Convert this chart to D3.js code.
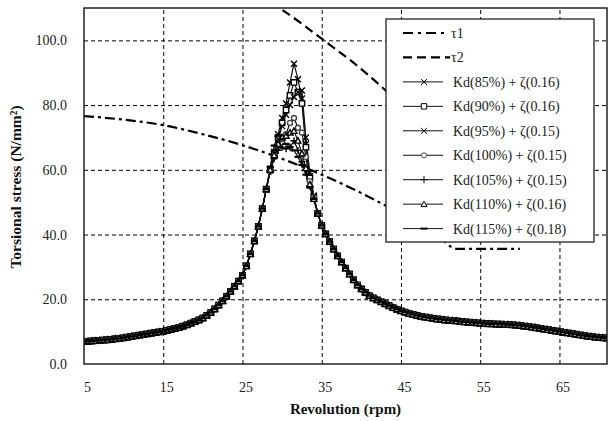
<!DOCTYPE html>
<html><head><meta charset="utf-8">
<script src="https://cdn.jsdelivr.net/npm/d3@7"></script>
<style>body{margin:0;background:#fff}</style>
</head><body><svg id="c" width="609" height="421"></svg>
<script>
const rpm = [5,5.5,6,6.5,7,7.5,8,8.5,9,9.5,10,10.5,11,11.5,12,12.5,13,13.5,14,14.5,15,15.5,16,16.5,17,17.5,18,18.5,19,19.5,20,20.5,21,21.5,22,22.5,23,23.5,24,24.5,25,25.5,26,26.5,27,27.5,28,28.5,29,29.5,30,30.5,31,31.5,32,32.5,33,33.5,34,34.5,35,35.5,36,36.5,37,37.5,38,38.5,39,39.5,40,40.5,41,41.5,42,42.5,43,43.5,44,44.5,45,45.5,46,46.5,47,47.5,48,48.5,49,49.5,50,50.5,51,51.5,52,52.5,53,53.5,54,54.5,55,55.5,56,56.5,57,57.5,58,58.5,59,59.5,60,60.5,61,61.5,62,62.5,63,63.5,64,64.5,65,65.5,66,66.5,67,67.5,68,68.5,69,69.5,70,70.5,71];
const baseStress = [6.9,7.0,7.1,7.2,7.3,7.4,7.5,7.6,7.8,7.9,8.1,8.3,8.5,8.7,8.9,9.1,9.3,9.5,9.7,9.9,10.1,10.4,10.7,11.0,11.3,11.7,12.1,12.6,13.1,13.6,14.2,15.0,15.9,17.0,18.2,19.5,20.9,22.4,24.0,25.6,27.4,30.3,34.0,38.0,42.5,48.0,54.0,60.0,65.0,70,74,76,78,80,76,72,64,57,51.5,46.5,42.8,40.2,37.8,35.5,33.4,31.5,29.6,27.8,26.0,24.4,23.2,22.1,21.1,20.4,19.8,19.2,18.6,18.0,17.4,16.9,16.4,16.0,15.6,15.3,15.0,14.7,14.5,14.3,14.1,13.9,13.8,13.6,13.5,13.4,13.3,13.1,13.0,12.9,12.8,12.7,12.6,12.5,12.4,12.4,12.3,12.3,12.2,12.2,12.1,12.0,11.9,11.7,11.6,11.4,11.2,11.0,10.8,10.6,10.4,10.2,10.0,9.8,9.6,9.4,9.2,9.0,8.8,8.6,8.5,8.3,8.2,8.1,8.0];

const peakRpm = [28.5,29,29.5,30,30.5,31,31.5,32,32.5,33,33.5,34];
const kd85  = [60,65.5,71,76,80.5,87,92.8,88,82,68,58,52];
const kd90  = [60,65,70,74.5,78.5,83,87,84,80.5,67,57.5,51.5];
const kd95  = [60,65,69.5,73.5,77,80,82.5,84,84.5,70,59,52];
const kd100 = [59.5,64,67.5,69.5,71,74.5,76,73,71.5,64,56.5,51.5];
const kd105 = [59.5,63.5,66,67,66.5,67,69,66,62.5,60,55,51];
const kd110 = [60,64.5,68,70,70.5,71.5,72,69,65,60.5,55.5,51];
const kd115 = [61,67.5,70.5,69.5,68,67,66,64,61.5,58.5,54.5,51];

const seriesLabels = ["Kd(85%) + \u03B6(0.16)","Kd(90%) + \u03B6(0.16)","Kd(95%) + \u03B6(0.15)","Kd(100%) + \u03B6(0.15)","Kd(105%) + \u03B6(0.15)","Kd(110%) + \u03B6(0.16)","Kd(115%) + \u03B6(0.18)"];
const seriesPeaks = [kd85,kd90,kd95,kd100,kd105,kd110,kd115];
const seriesMarkers = ["x","square","x","circle","plus","triangle","dash"];

const tau1Rpm = [5,10,15,20,25,30,35,40,45,48,50,52,56,60];
const tau1 = [76.6,75.5,73.8,71.0,67.6,63.4,58.5,52.8,46.3,41.9,38.8,35.6,35.6,35.6];
const tau2Rpm = [27,30,35,40,45,46.5];
const tau2 = [113.7,109.4,100.5,91.1,79.9,76.0];

const xTicks = [5,15,25,35,45,55,65];
const yTicks = [0,20,40,60,80,100];

const svg = d3.select("#c");
const L=84,R=607,T=8,B=364;
const x = d3.scaleLinear().domain([5,71]).range([L,R]);
const y = d3.scaleLinear().domain([0,110]).range([B,T]);
const font = "'Liberation Serif','Times New Roman',serif";

svg.append("defs").append("clipPath").attr("id","clip")
  .append("rect").attr("x",L).attr("y",T).attr("width",R-L).attr("height",B-T);

// grid
const gx = svg.append("g").attr("transform",`translate(0,${B})`)
  .call(d3.axisBottom(x).tickValues(xTicks.slice(1)).tickSize(-(B-T)).tickFormat(""));
gx.select(".domain").remove();
gx.selectAll("line").attr("stroke","#000").attr("stroke-dasharray","4,3").attr("stroke-width",1);
const gy = svg.append("g").attr("transform",`translate(${L},0)`)
  .call(d3.axisLeft(y).tickValues(yTicks.slice(1)).tickSize(-(R-L)).tickFormat(""));
gy.select(".domain").remove();
gy.selectAll("line").attr("stroke","#000").attr("stroke-dasharray","4,3").attr("stroke-width",1);

// tick labels via axes
const ax = svg.append("g").attr("transform",`translate(0,${B})`)
  .call(d3.axisBottom(x).tickValues(xTicks).tickSize(0).tickPadding(18).tickFormat(d3.format("d")));
ax.select(".domain").remove();
ax.selectAll("text").attr("font-family",font).attr("font-size",14).attr("fill","#222").attr("dx",3);
const ay = svg.append("g").attr("transform",`translate(${L},0)`)
  .call(d3.axisLeft(y).tickValues(yTicks).tickSize(0).tickPadding(17).tickFormat(d3.format(".1f")));
ay.select(".domain").remove();
ay.selectAll("text").attr("font-family",font).attr("font-size",14).attr("fill","#222");

const plot = svg.append("g").attr("clip-path","url(#clip)");

// tau lines
const lineT = d3.line().x(d=>x(d[0])).y(d=>y(d[1])).curve(d3.curveMonotoneX);
plot.append("path").datum(tau1Rpm.map((r,i)=>[r,tau1[i]])).attr("d",lineT)
  .attr("fill","none").attr("stroke","#000").attr("stroke-width",2.2).attr("stroke-dasharray","10,4,3,4");
plot.append("path").datum(tau2Rpm.map((r,i)=>[r,tau2[i]])).attr("d",lineT)
  .attr("fill","none").attr("stroke","#000").attr("stroke-width",2.2).attr("stroke-dasharray","9,5");

// series
const markerPath = {
  x:"M-3,-3L3,3M-3,3L3,-3",
  square:"M-2.7,-2.7H2.7V2.7H-2.7Z",
  circle:"M-2.5,0A2.5,2.5 0 1 0 2.5,0A2.5,2.5 0 1 0 -2.5,0Z",
  plus:"M-3.5,0H3.5M0,-3.5V3.5",
  triangle:"M0,-3L3,2.4H-3Z",
  dash:"M-3.5,0H3.5"
};
const series = seriesPeaks.map((pk,si)=>({
  label: seriesLabels[si], marker: seriesMarkers[si],
  values: rpm.map((r,i)=>{ const k = peakRpm.indexOf(r); return [r, k>=0 ? pk[k] : baseStress[i]]; })
}));
const lineS = d3.line().x(d=>x(d[0])).y(d=>y(d[1]));
series.forEach(s=>{
  plot.append("path").datum(s.values).attr("d",lineS)
    .attr("fill","none").attr("stroke","#111").attr("stroke-width",1.2);
});
series.forEach(s=>{
  plot.append("g").selectAll("path").data(s.values).join("path")
    .attr("transform",d=>`translate(${x(d[0])},${y(d[1])})`)
    .attr("d",markerPath[s.marker])
    .attr("fill",(s.marker==="square"||s.marker==="circle"||s.marker==="triangle")?"#fff":"none")
    .attr("stroke", s.marker==="circle" ? "#444" : "#000")
    .attr("stroke-width", s.marker==="dash" ? 2.2 : 1.4);
});

// frame
svg.append("rect").attr("x",L).attr("y",T).attr("width",R-L).attr("height",B-T)
  .attr("fill","none").attr("stroke","#222").attr("stroke-width",1.5);

// legend
const lg = svg.append("g");
lg.append("rect").attr("x",386).attr("y",19).attr("width",208).attr("height",223)
  .attr("fill","#fff").attr("stroke","#222").attr("stroke-width",1.3);
const legendItems = [{label:"\u03C41",type:"tau1"},{label:"\u03C42",type:"tau2"}]
  .concat(series.map(s=>({label:s.label,type:"series",marker:s.marker})));
legendItems.forEach((it,i)=>{
  const yy = 33 + i*24.45;
  const g = lg.append("g").attr("transform",`translate(0,${yy})`);
  if(it.type==="tau1"){
    g.append("line").attr("x1",403).attr("x2",444).attr("stroke","#000").attr("stroke-width",2.2).attr("stroke-dasharray","10,5,3,5");
  } else if(it.type==="tau2"){
    g.append("line").attr("x1",403).attr("x2",450).attr("stroke","#000").attr("stroke-width",2.2).attr("stroke-dasharray","9,5");
  } else {
    g.append("line").attr("x1",403).attr("x2",443).attr("stroke","#111").attr("stroke-width",1);
    g.append("path").attr("transform","translate(424,0)").attr("d",markerPath[it.marker])
      .attr("fill",(it.marker==="square"||it.marker==="circle"||it.marker==="triangle")?"#fff":"none")
      .attr("stroke", it.marker==="circle" ? "#444" : "#000")
      .attr("stroke-width", it.marker==="dash" ? 2 : 1);
  }
  g.append("text").attr("x",it.type==="series"?453:451).attr("y",0).attr("dy","0.35em")
    .attr("font-family",font).attr("font-size",14).attr("fill","#1a1a1a").text(it.label);
});

// axis titles
svg.append("text").attr("x",(L+R)/2).attr("y",414).attr("text-anchor","middle")
  .attr("font-family",font).attr("font-size",15).attr("font-weight","bold").attr("fill","#111")
  .text("Revolution (rpm)");
svg.append("text").attr("transform","translate(21,187) rotate(-90)").attr("text-anchor","middle")
  .attr("font-family",font).attr("font-size",15.5).attr("font-weight","bold").attr("fill","#111")
  .text("Torsional stress (N/mm\u00B2)");
</script></body></html>
